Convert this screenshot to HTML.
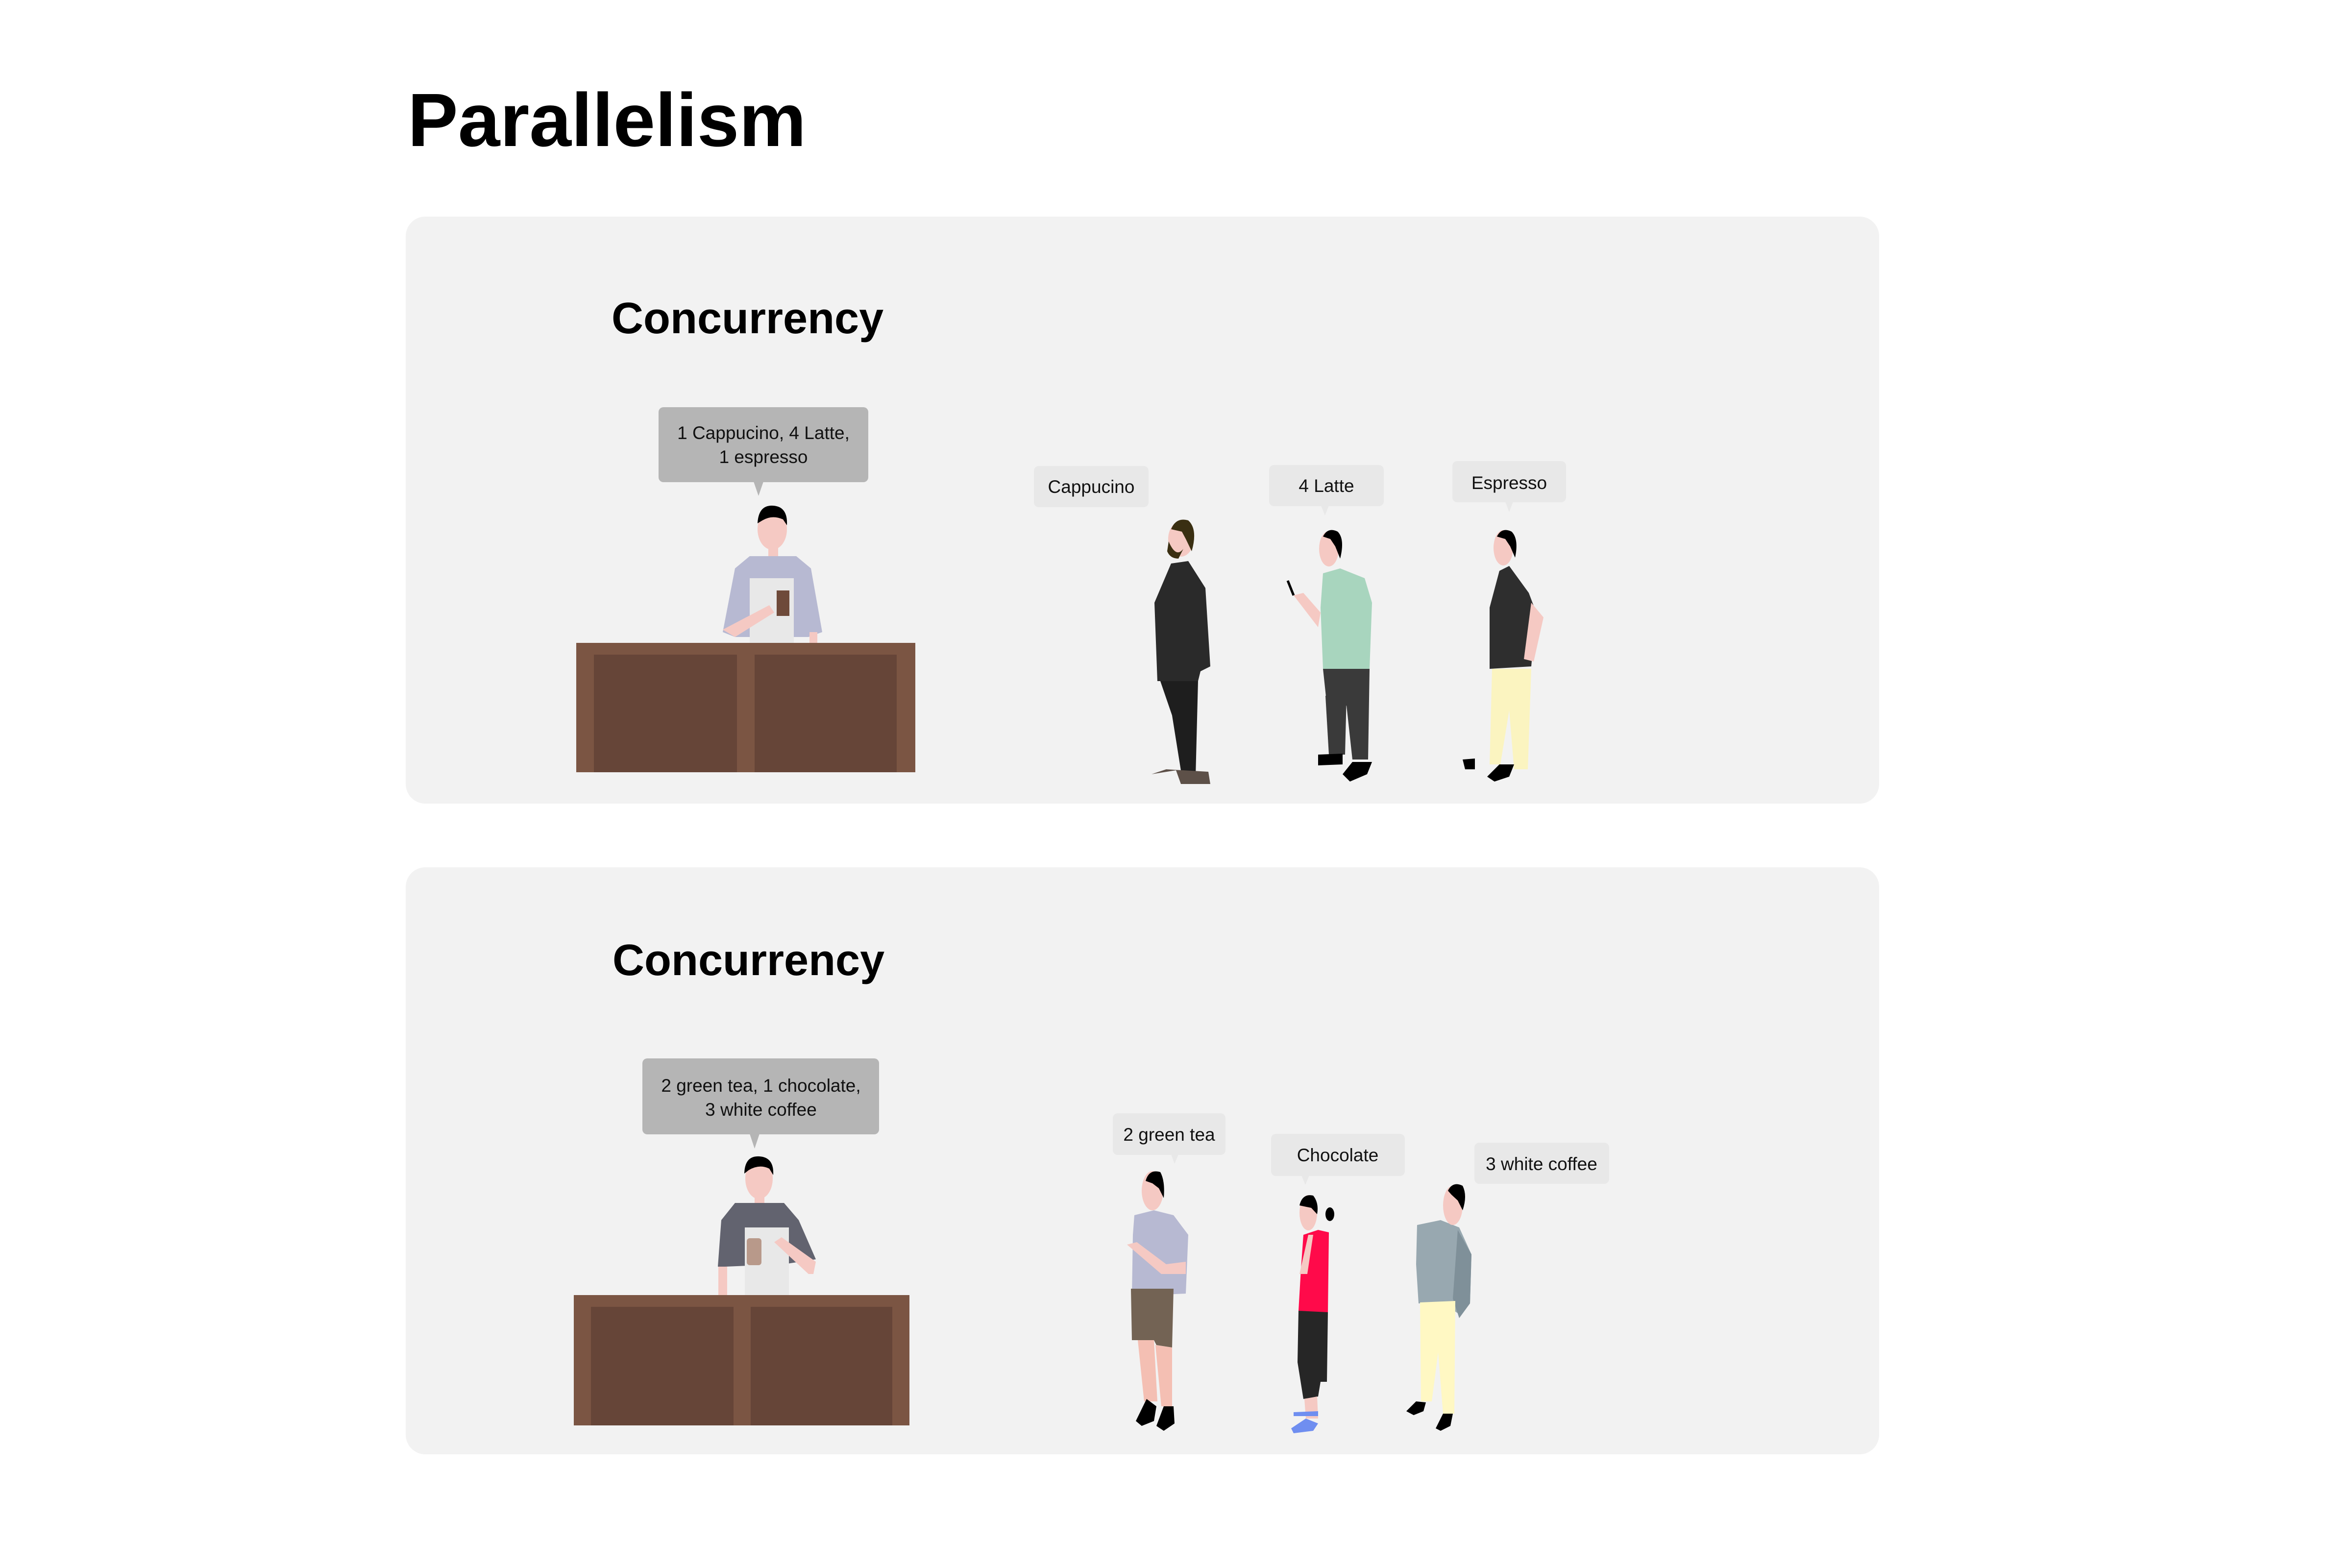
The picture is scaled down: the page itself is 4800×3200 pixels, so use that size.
<!DOCTYPE html>
<html><head><meta charset="utf-8"><style>
html,body{margin:0;padding:0;background:#fff;}
svg{display:block;}
text{font-family:"Liberation Sans",sans-serif;}
</style></head><body>
<svg width="4800" height="3200" viewBox="0 0 4800 3200" xmlns="http://www.w3.org/2000/svg">
<rect width="4800" height="3200" fill="#fff"/>
<text x="832" y="298" font-size="154" font-weight="bold" fill="#000">Parallelism</text>

<!-- Panel 1 -->
<rect x="828" y="442" width="3007" height="1198" rx="40" fill="#f2f2f2"/>
<text x="1248" y="680" font-size="90" font-weight="bold" fill="#000">Concurrency</text>
<rect x="1344" y="831" width="428" height="153" rx="10" fill="#b5b5b5"/>
<polygon points="1538,983 1558,983 1548,1012" fill="#b5b5b5"/>
<text x="1558" y="896" font-size="37" text-anchor="middle" fill="#111">1 Cappucino, 4 Latte,</text>
<text x="1558" y="945" font-size="37" text-anchor="middle" fill="#111">1 espresso</text>

<!-- barista 1 -->
<rect x="1568" y="1105" width="20" height="40" fill="#f5c9c3"/>
<polygon points="1500,1160 1530,1135 1625,1135 1655,1160 1678,1290 1650,1300 1500,1300 1475,1290" fill="#b7b9d2"/>
<rect x="1530" y="1180" width="90" height="135" fill="#e8e8e8"/>
<rect x="1652" y="1290" width="16" height="30" fill="#f5c9c3"/>
<polygon points="1475,1285 1500,1300 1580,1250 1570,1235" fill="#f5c9c3"/>
<rect x="1585" y="1205" width="26" height="52" fill="#6e4a3a"/>
<ellipse cx="1576" cy="1080" rx="30" ry="42" fill="#f5c9c3"/>
<path d="M1546,1068 Q1548,1030 1578,1032 Q1608,1034 1606,1072 L1598,1060 Q1576,1050 1556,1062 Z" fill="#000"/>
<!-- counter 1 -->
<rect x="1176" y="1312" width="692" height="264" fill="#7b5543"/>
<rect x="1212" y="1336" width="292" height="240" fill="#664538"/>
<rect x="1540" y="1336" width="290" height="240" fill="#664538"/>

<!-- customer bubbles 1 -->
<rect x="2110" y="951" width="234" height="84" rx="10" fill="#e8e8e8"/>
<text x="2227" y="1006" font-size="37" text-anchor="middle" fill="#111">Cappucino</text>
<rect x="2590" y="949" width="234" height="84" rx="10" fill="#e8e8e8"/>
<polygon points="2696,1032 2712,1032 2704,1052" fill="#e8e8e8"/>
<text x="2707" y="1004" font-size="37" text-anchor="middle" fill="#111">4 Latte</text>
<rect x="2964" y="941" width="232" height="84" rx="10" fill="#e8e8e8"/>
<polygon points="3072,1024 3088,1024 3080,1045" fill="#e8e8e8"/>
<text x="3080" y="998" font-size="37" text-anchor="middle" fill="#111">Espresso</text>

<!-- P1 suit -->
<polygon points="2390,1150 2425,1145 2460,1200 2470,1360 2450,1370 2445,1390 2362,1390 2356,1230" fill="#2a2a2a"/>
<polygon points="2368,1390 2445,1390 2440,1585 2412,1585 2392,1460" fill="#1e1e1e"/>
<polygon points="2350,1580 2400,1572 2410,1600 2470,1600 2466,1575 2380,1570" fill="#5d5048"/>
<ellipse cx="2410" cy="1100" rx="26" ry="36" fill="#f5c9c3"/>
<path d="M2390,1080 Q2400,1055 2425,1062 Q2445,1080 2432,1125 L2420,1100 L2412,1085 Z" fill="#3a2f12"/>
<path d="M2385,1105 Q2400,1140 2415,1120 L2405,1140 Q2388,1140 2382,1125 Z" fill="#3a2f12"/>

<!-- P2 green -->
<polygon points="2700,1170 2735,1160 2785,1180 2800,1230 2795,1365 2700,1365 2695,1240" fill="#a8d5be"/>
<polygon points="2640,1215 2660,1210 2695,1250 2690,1280" fill="#f5c9c3"/>
<line x1="2628" y1="1185" x2="2640" y2="1215" stroke="#000" stroke-width="5"/>
<polygon points="2700,1365 2795,1365 2792,1550 2760,1550 2748,1440 2708,1440" fill="#3a3a3a"/>
<polygon points="2705,1420 2748,1420 2745,1540 2712,1540" fill="#3a3a3a"/>
<polygon points="2690,1540 2740,1538 2740,1560 2690,1562" fill="#000"/>
<polygon points="2740,1580 2760,1555 2800,1555 2790,1580 2755,1595" fill="#000"/>
<ellipse cx="2712" cy="1120" rx="20" ry="36" fill="#f5c9c3"/>
<path d="M2700,1095 Q2710,1075 2730,1085 Q2745,1100 2735,1140 L2725,1115 L2715,1100 Z" fill="#000"/>

<!-- P3 black shirt -->
<polygon points="3060,1165 3080,1155 3120,1210 3135,1250 3125,1360 3040,1365 3040,1240" fill="#2e2e2e"/>
<polygon points="3125,1230 3150,1260 3130,1350 3110,1345" fill="#f5c9c3"/>
<polygon points="3045,1365 3125,1365 3118,1570 3090,1570 3080,1450 3062,1560 3040,1560" fill="#fbf4c0"/>
<polygon points="2985,1550 3010,1548 3010,1570 2990,1570" fill="#000"/>
<polygon points="3035,1585 3060,1560 3090,1560 3080,1585 3050,1595" fill="#000"/>
<ellipse cx="3068" cy="1118" rx="20" ry="36" fill="#f5c9c3"/>
<path d="M3055,1095 Q3065,1075 3085,1085 Q3100,1100 3092,1138 L3082,1115 L3072,1100 Z" fill="#000"/>

<!-- Panel 2 -->
<rect x="828" y="1770" width="3007" height="1198" rx="40" fill="#f2f2f2"/>
<text x="1250" y="1990" font-size="90" font-weight="bold" fill="#000">Concurrency</text>
<rect x="1311" y="2160" width="483" height="155" rx="10" fill="#b5b5b5"/>
<polygon points="1530,2314 1550,2314 1540,2344" fill="#b5b5b5"/>
<text x="1553" y="2228" font-size="37" text-anchor="middle" fill="#111">2 green tea, 1 chocolate,</text>
<text x="1553" y="2277" font-size="37" text-anchor="middle" fill="#111">3 white coffee</text>

<!-- barista 2 -->
<rect x="1540" y="2430" width="20" height="40" fill="#f5c9c3"/>
<polygon points="1472,2490 1500,2455 1600,2455 1630,2490 1665,2570 1600,2580 1480,2585 1465,2585" fill="#62636f"/>
<rect x="1520" y="2505" width="90" height="140" fill="#e8e8e8"/>
<rect x="1466" y="2585" width="18" height="60" fill="#f5c9c3"/>
<polygon points="1580,2535 1595,2525 1665,2575 1660,2600 1650,2600" fill="#f5c9c3"/>
<rect x="1524" y="2527" width="30" height="55" rx="6" fill="#b8998a"/>
<ellipse cx="1549" cy="2405" rx="28" ry="42" fill="#f5c9c3"/>
<path d="M1519,2395 Q1520,2358 1550,2360 Q1580,2362 1578,2398 L1570,2385 Q1550,2375 1528,2388 Z" fill="#000"/>
<!-- counter 2 -->
<rect x="1171" y="2643" width="685" height="266" fill="#7b5543"/>
<rect x="1206" y="2667" width="291" height="242" fill="#664538"/>
<rect x="1532" y="2667" width="289" height="242" fill="#664538"/>

<!-- bubbles 2 -->
<rect x="2271" y="2272" width="230" height="85" rx="10" fill="#e8e8e8"/>
<polygon points="2390,2356 2405,2356 2397,2375" fill="#e8e8e8"/>
<text x="2386" y="2328" font-size="37" text-anchor="middle" fill="#111">2 green tea</text>
<rect x="2594" y="2314" width="273" height="86" rx="10" fill="#e8e8e8"/>
<polygon points="2656,2399 2672,2399 2664,2418" fill="#e8e8e8"/>
<text x="2730" y="2370" font-size="37" text-anchor="middle" fill="#111">Chocolate</text>
<rect x="3009" y="2332" width="275" height="84" rx="10" fill="#e8e8e8"/>
<text x="3146" y="2388" font-size="37" text-anchor="middle" fill="#111">3 white coffee</text>

<!-- PA -->
<polygon points="2315,2480 2355,2470 2395,2480 2425,2520 2420,2640 2310,2645 2312,2520" fill="#b7b9d2"/>
<polygon points="2300,2540 2320,2535 2380,2580 2420,2575 2420,2600 2370,2600" fill="#f5c9c3"/>
<polygon points="2308,2630 2395,2630 2392,2750 2360,2745 2355,2735 2310,2735" fill="#736354"/>
<polygon points="2322,2735 2355,2735 2362,2860 2335,2860" fill="#f4bfb3"/>
<polygon points="2358,2745 2392,2750 2392,2870 2370,2870" fill="#f4bfb3"/>
<polygon points="2318,2900 2340,2855 2360,2870 2355,2900 2330,2910" fill="#000"/>
<polygon points="2360,2910 2375,2870 2395,2870 2397,2905 2375,2920" fill="#000"/>
<ellipse cx="2352" cy="2430" rx="22" ry="40" fill="#f5c9c3"/>
<path d="M2338,2410 Q2345,2385 2368,2392 Q2378,2410 2375,2445 L2365,2425 L2352,2415 Z" fill="#000"/>

<!-- PB -->
<polygon points="2660,2520 2690,2510 2712,2515 2710,2680 2650,2675 2655,2590" fill="#ff0a4a"/>
<polygon points="2650,2675 2710,2678 2708,2820 2695,2820 2690,2850 2660,2855 2648,2780" fill="#262626"/>
<polygon points="2662,2855 2688,2850 2690,2895 2665,2895" fill="#f5c9c3"/>
<polygon points="2640,2882 2690,2880 2690,2890 2640,2890" fill="#6f8ef0"/>
<polygon points="2635,2915 2665,2895 2690,2905 2680,2920 2640,2925" fill="#6f8ef0"/>
<polygon points="2652,2600 2670,2520 2680,2520 2668,2600" fill="#f5c9c3"/>
<ellipse cx="2670" cy="2475" rx="18" ry="36" fill="#f5c9c3"/>
<path d="M2652,2460 Q2658,2435 2680,2440 Q2692,2455 2688,2478 L2676,2465 Z" fill="#000"/>
<ellipse cx="2714" cy="2478" rx="9" ry="14" fill="#000"/>

<!-- PC -->
<polygon points="2892,2500 2940,2490 2978,2505 3003,2560 3000,2660 2975,2680 2945,2660 2895,2660 2890,2580" fill="#98a8b0"/>
<polygon points="2975,2510 3003,2560 3000,2660 2978,2690 2965,2650" fill="#7f9099"/>
<polygon points="2898,2658 2970,2655 2968,2885 2945,2885 2935,2760 2922,2860 2900,2860" fill="#fff8c3"/>
<polygon points="2870,2880 2890,2860 2910,2862 2905,2880 2885,2888" fill="#000"/>
<polygon points="2930,2915 2945,2885 2965,2885 2960,2910 2940,2920" fill="#000"/>
<ellipse cx="2965" cy="2460" rx="20" ry="40" fill="#f5c9c3"/>
<path d="M2955,2430 Q2965,2410 2985,2420 Q2995,2440 2985,2470 L2975,2450 L2962,2438 Z" fill="#000"/>
</svg>
</body></html>
